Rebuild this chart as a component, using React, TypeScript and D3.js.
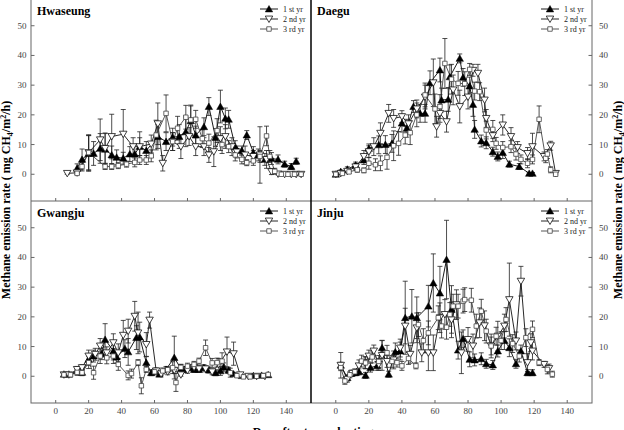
import React from "react";
import * as d3 from "d3";

// [day, value, error]
const hwaseung1 = [[13,2,1.5],[16,5,3.5],[20,7,6],[23,7,4],[27,8.7,5],[30,8.4,5.5],[34,6.5,3],[37,5.7,2.5],[41,5.4,2],[45,6.8,2.5],[48,6.8,3],[51,9.3,5],[55,8,3],[62,12.7,4],[67,11,3],[71,12.5,3],[75,12.7,4],[79,14.3,5],[82,18,5],[85,13.2,3],[90,16,3],[93,22.8,3],[97,12.4,3],[100,22.8,5.5],[103,18.8,3.5],[105,18.5,3],[109,9.3,2],[113,8,1.5],[116,13.2,1.5],[120,7.3,2],[123,6.5,2],[127,5,2],[131,5.3,2],[135,5,1.5],[139,3.4,1],[143,2.6,1],[146,4.4,1]];
const hwaseung2 = [[7,0.3,0.3],[13,0.5,0.5],[20,7.3,6],[27,11.6,7],[30,8.7,5],[34,12.7,7.5],[41,13.5,8.3],[47,9.3,3],[51,9.3,3],[58,10.2,3],[62,17,7],[65,3.7,2.6],[71,11,3],[76,9.3,4],[81,12.7,3],[85,9.3,3],[90,9.3,3],[93,6.5,2.5],[96,7.6,5],[100,12,4],[103,12.7,4],[107,9.3,3],[110,7.5,2],[115,6.5,3],[120,6,2],[124,6.5,9.5],[128,5,3],[131,0.9,1],[135,0.1,0.3],[139,0,0.3],[143,0,0.3],[146,0,0.3],[149,0,0.3]];
const hwaseung3 = [[13,0.3,0.3],[16,2.6,1.5],[20,7.3,5.8],[30,2.6,1],[34,2.6,1],[38,2.9,1],[43,3.4,1],[48,4,1.5],[51,4.8,1.5],[55,4.8,1.5],[58,6.2,2],[61,13.2,5],[67,20.5,6.2],[71,11,3],[74,15.5,4],[79,19.2,4],[82,18.3,5],[85,18.5,3],[89,12,3],[93,10.5,3],[98,14.7,4],[101,10,3],[105,9.3,2],[109,6.5,2],[113,5,1.5],[116,3.9,1],[120,4.5,1.5],[124,6,2],[128,12.9,3.3],[130,6,2],[133,1,1],[137,0,0.3],[141,0,0.3],[145,0,0.3],[149,0,0.3]];

const daegu1 = [[0,0,0.3],[3,0.9,0.5],[7,1.7,0.8],[12,3.1,1],[17,4.8,1.5],[20,8.7,1.5],[26,9.9,3],[30,10,3],[34,10.4,3],[40,17.2,3],[43,15.5,3],[47,22.8,2],[51,20.5,3],[54,20.5,3],[57,30.8,4],[63,35.1,4],[64,25,4],[68,25.2,4],[69,32.8,4],[75,39,1.5],[77,32.6,3],[81,29.7,3],[83,23.5,4],[84,15.1,3],[88,11.2,2],[91,10.6,2],[95,7.6,1.5],[98,6,1.5],[101,7.3,2],[105,3.4,1],[111,2.6,1],[117,0.3,0.3],[119,0.3,0.3]];
const daegu2 = [[0,0,0.3],[3,0.3,0.3],[7,1,0.5],[12,2.5,1],[17,6,2],[20,7.6,2],[23,9.3,3],[27,13.8,3.5],[32,20.5,3],[35,18.8,3],[40,19.4,2],[44,17,3],[49,22,3],[54,26,4],[59,30.8,8],[61,16,3.5],[63,20.5,3],[67,17.7,3.5],[71,28.4,5],[75,22.8,5.5],[80,26,4],[83,35,2],[86,34,3],[90,25,4],[91,18.8,3],[95,13,2],[101,16.6,3.4],[106,12.7,3],[110,9,2],[116,7,2],[119,9.3,4.5],[126,6,1.5],[130,9.6,1.5],[133,0.3,0.3]];
const daegu3 = [[0,0,0.3],[4,0.3,0.3],[8,0.8,0.5],[13,1.5,0.8],[17,1.3,0.8],[20,3.7,2],[24,3.2,2],[27,3.7,2.5],[31,5.7,4],[35,9.6,5],[38,10.4,4],[42,13.2,3],[45,14,4],[49,20,4],[54,26.7,4],[60,22,5],[63,22.8,4],[66,37.3,8.4],[70,32,5],[74,30.6,4],[78,30.5,4],[81,35.3,2],[84,28,3],[87,27.8,3],[91,14.9,3],[95,15.1,3],[97,10.4,2],[101,9,2],[106,9.3,2],[109,6.8,2],[112,5,1.5],[116,3.7,1.5],[119,5,1.5],[123,18.5,4.5],[127,5.4,1.5],[128,6.8,1.5],[130,1.5,1],[133,0,0.3]];

const gwangju1 = [[5,0.7,0.3],[8,0.7,0.3],[13,1.8,1],[16,1.3,1],[20,5.7,2],[23,6.8,2],[28,7.6,2],[30,12.4,5.3],[35,8.5,3],[37,6.5,2],[42,9.3,3],[44,8.2,4.5],[49,13,4],[51,13.2,5],[55,4.6,2],[58,1.2,1],[63,0.7,0.5],[67,2.3,1],[72,6.3,7.2],[76,2.5,1.5],[78,2.3,1],[81,2.9,1],[84,2.3,1],[87,2.3,1],[90,2.9,1],[93,2.1,1],[97,1.2,1],[100,1.8,1.5],[102,3,1.5],[105,2,1],[108,0.8,0.5],[113,0.2,0.3],[120,0.2,0.3],[125,0.3,0.3],[129,0.5,0.3]];
const gwangju2 = [[5,0.5,0.3],[8,0.5,0.3],[13,2.3,1],[16,2.9,1],[20,6.8,2],[24,7.4,2],[27,10.2,2.5],[31,7.9,2],[35,11.3,3],[38,7.9,3],[41,13.8,5],[44,15.2,4],[48,20.2,5],[50,14.6,7],[55,10.7,4],[57,18.9,2.7],[61,1.8,1],[64,0.8,0.5],[68,1.5,1],[72,2,1],[76,0.5,0.5],[80,2,1],[84,3,1],[87,2.5,1],[91,2.5,1],[95,1.5,1],[99,4,2],[104,8.2,5],[108,7.6,3.9],[112,0.5,0.5],[117,0,0.3],[122,0,0.3],[127,0,0.3]];
const gwangju3 = [[5,0.5,0.3],[9,0.5,0.3],[13,1.3,1],[16,1.2,1],[20,4.6,2],[23,1.2,2.2],[27,6.8,2.5],[31,6.2,2],[35,6.8,2.5],[38,4,2],[44,0.3,1.5],[46,0.9,1.5],[50,4.6,1],[52,-3.2,2.7],[55,2.3,1],[60,1.5,1],[65,1.8,1],[68,2.2,1],[71,2.9,2],[73,-2.1,3],[76,3,1],[80,3.4,1],[84,4,1],[87,5.1,1],[91,9.6,2.6],[95,4.5,1.5],[98,4.6,1.5],[101,5.1,2.8],[106,1.2,1.5],[110,0.2,0.5],[114,-0.2,0.5],[118,-0.2,0.3],[122,0,0.3],[126,0.2,0.3],[129,0.6,0.3]];

const jinju1 = [[3,3.7,1],[7,-0.5,1],[9.5,1,1],[12,1.2,1],[14,1.5,1],[18,0.3,1],[21,2.9,1.5],[25,3.5,1.5],[28,9.6,2.5],[32,0.7,1],[36,8.2,3],[39,8.5,3],[42,19.7,12.3],[46,20.2,9],[49,19.7,7],[56,23.6,7],[59,31.4,9.8],[63,28,9],[67,39.3,13.2],[70,22.5,8],[74,8.8,3],[77,12.6,3],[81,5.7,2.5],[84,5.5,2],[88,5.9,2],[91,4.2,1.5],[95,3.8,1.5],[98,8.5,2],[102,12,3],[105,9.6,3],[109,4.2,1.5],[112,8.5,2],[116,1.2,1],[119,1.2,1]];
const jinju2 = [[3,3.7,4.3],[7,-1,1],[10,1,1],[14,3.5,2],[17.6,4.6,2],[20,6.8,2],[23,8.5,2],[26,4,2],[28,7,5],[31,5,2],[35,5.5,3],[39,9.5,3],[42,16.9,6],[45,7.4,3],[49,16.3,5],[52,7.9,3],[56,7.9,6],[59,7.9,6],[63,19.7,5],[66,20.8,5],[70,19,6],[73,24.1,5],[76,7.9,7],[80,12.4,4],[83,10.2,4],[87,18,5],[90,17,5],[94,10.2,4],[98,13.5,5],[102,16.9,4],[105,25.8,12.3],[109,11.9,3],[112,32,5],[116,4.6,3],[118,11.3,3],[119,8.5,3],[126,4,1],[129,2.6,1.5]];
const jinju3 = [[3,2.9,1],[5.5,-1.6,1.1],[8.5,0.5,1],[11.5,1.5,1],[15.6,5.1,2],[18,4.5,2],[22,6.5,2],[26,5,2],[31,7.9,2.5],[34,5,2],[37,4.6,1.5],[40,3.5,1.5],[44,6,2],[48.5,3.5,1],[50,17.4,4],[53,12,4],[56,14.6,4],[62,19.7,4],[64,16.9,4],[67,16.5,4],[69,20.8,4],[71,23.6,4],[74,23.6,4],[77,25.3,4],[78,25.8,4],[82,25.6,4],[85,16.9,4],[88,21.9,4],[91,15.2,4],[94,10.2,3],[97,13.5,3],[100,12,3],[103,19.1,4],[107,11,3],[111,6.8,2],[115,13,3],[119,15.8,2.8],[123,4.6,1],[128,2.3,1.5],[131,0.7,1]];

const siteNames = ["Hwaseung", "Daegu", "Gwangju", "Jinju"];
const seriesNames = ["1 st yr", "2 nd yr", "3 rd yr"];
const xTicks = [0, 20, 40, 60, 80, 100, 120, 140];
const yTicks = [0, 10, 20, 30, 40, 50];
const xDomain = [-15, 155];
const yDomain = [-9, 59];

const FONT = "'Liberation Serif', 'Times New Roman', serif";
const AXIS = "#666";

const triUp = d3.symbol().type(d3.symbolTriangle).size(24)();
const square = d3.symbol().type(d3.symbolSquare).size(20)();

function Marker({ kind, x, y }: { kind: number; x: number; y: number }) {
  if (kind === 0) return <path d={triUp!} transform={`translate(${x},${y + 0.8})`} fill="#000" stroke="#000" strokeWidth={0.5} />;
  if (kind === 1) return <path d={triUp!} transform={`translate(${x},${y - 0.8}) rotate(180)`} fill="#fff" stroke="#111" strokeWidth={0.8} />;
  return <path d={square!} transform={`translate(${x},${y})`} fill="#fff" stroke="#444" strokeWidth={0.8} />;
}

function Panel({ name, data, x0, x1, y0, y1, side, showX }: any) {
  const xs = d3.scaleLinear().domain(xDomain).range([x0, x1]);
  const ys = d3.scaleLinear().domain(yDomain).range([y1, y0]);
  const line = d3.line<number[]>().x((d) => xs(d[0])).y((d) => ys(d[1]));
  const lineColors = ["#000", "#111", "#444"];
  return (
    <g>
      {data.map((s: number[][], si: number) => (
        <g key={si}>
          <path d={line(s)!} fill="none" stroke={lineColors[si]} strokeWidth={0.9} />
          {s.map((d, i) => {
            const cx = xs(d[0]);
            const ya = ys(d[1] - d[2]);
            const yb = ys(d[1] + d[2]);
            return (
              <g key={i} stroke="#222" strokeWidth={0.8}>
                <line x1={cx} x2={cx} y1={ya} y2={yb} />
                <line x1={cx - 2.5} x2={cx + 2.5} y1={ya} y2={ya} />
                <line x1={cx - 2.5} x2={cx + 2.5} y1={yb} y2={yb} />
              </g>
            );
          })}
        </g>
      ))}
      {data.map((s: number[][], si: number) => (
        <g key={"m" + si}>
          {s.map((d, i) => (
            <Marker key={i} kind={si} x={xs(d[0])} y={ys(d[1])} />
          ))}
        </g>
      ))}
      {/* y ticks */}
      {yTicks.map((t) => {
        const yy = ys(t);
        return side === "left" ? (
          <g key={t}>
            <line x1={x0} x2={x0 + 3.5} y1={yy} y2={yy} stroke={AXIS} strokeWidth={1} />
            <text x={26.5} y={yy + 3} fontSize={9} fill="#444" textAnchor="end" fontFamily={FONT}>{t}</text>
          </g>
        ) : (
          <g key={t}>
            <line x1={x1 - 3.5} x2={x1} y1={yy} y2={yy} stroke={AXIS} strokeWidth={1} />
            <text x={599} y={yy + 3} fontSize={9} fill="#444" textAnchor="start" fontFamily={FONT}>{t}</text>
          </g>
        );
      })}
      {/* x ticks */}
      {xTicks.map((t) => (
        <g key={t}>
          <line x1={xs(t)} x2={xs(t)} y1={y1} y2={y1 - 3} stroke={AXIS} strokeWidth={1} />
          {showX && (
            <text x={xs(t)} y={414} fontSize={9} fill="#444" textAnchor="middle" fontFamily={FONT}>{t}</text>
          )}
        </g>
      ))}
      <text x={x0 + 6} y={y0 + 16} fontSize={12} fontWeight="bold" fontFamily={FONT}>{name}</text>
      {/* legend */}
      {seriesNames.map((nm, i) => {
        const ly = y0 + 10 + i * 10;
        const lx = x1 - 51;
        return (
          <g key={nm}>
            <line x1={lx} x2={lx + 18} y1={ly} y2={ly} stroke={lineColors[i]} strokeWidth={0.9} />
            <Marker kind={i} x={lx + 9} y={ly} />
            <text x={lx + 23} y={ly + 2.8} fontSize={8} fontFamily={FONT} fill="#222">{nm}</text>
          </g>
        );
      })}
    </g>
  );
}

function YLabel({ x }: { x: number }) {
  return (
    <text transform={`translate(${x},200) rotate(-90)`} textAnchor="middle" fontSize={12} fontWeight="bold" fontFamily={FONT}>
      Methane emission rate ( mg CH
      <tspan fontSize={8} dy={3}>4</tspan>
      <tspan dy={-3}>/m</tspan>
      <tspan fontSize={8} dy={-4}>2</tspan>
      <tspan dy={4}>/h)</tspan>
    </text>
  );
}

export default function App() {
  const L = 31, M = 311, R = 592, T = -1, C = 201, B = 403;
  const panels = [
    { name: siteNames[0], data: [hwaseung1, hwaseung2, hwaseung3], x0: L, x1: M, y0: T, y1: C, side: "left", showX: false },
    { name: siteNames[1], data: [daegu1, daegu2, daegu3], x0: M, x1: R, y0: T, y1: C, side: "right", showX: false },
    { name: siteNames[2], data: [gwangju1, gwangju2, gwangju3], x0: L, x1: M, y0: C, y1: B, side: "left", showX: true },
    { name: siteNames[3], data: [jinju1, jinju2, jinju3], x0: M, x1: R, y0: C, y1: B, side: "right", showX: true },
  ];
  return (
    <svg width={624} height={430} style={{ position: "absolute", left: 0, top: 0, background: "#fff" }}>
      <rect x={0} y={0} width={624} height={430} fill="#fff" />
      {panels.map((p) => (
        <Panel key={p.name} {...p} />
      ))}
      <rect x={L} y={T} width={R - L} height={B - T} fill="none" stroke={AXIS} strokeWidth={1} />
      <line x1={L} x2={R} y1={C} y2={C} stroke={AXIS} strokeWidth={1} />
      <line x1={M} x2={M} y1={T} y2={B} stroke="#000" strokeWidth={1.5} />
      <YLabel x={10} />
      <YLabel x={622} />
      <text x={313} y={436} textAnchor="middle" fontSize={12} fontWeight="bold" fontFamily={FONT}>Day after transplanting</text>
    </svg>
  );
}
